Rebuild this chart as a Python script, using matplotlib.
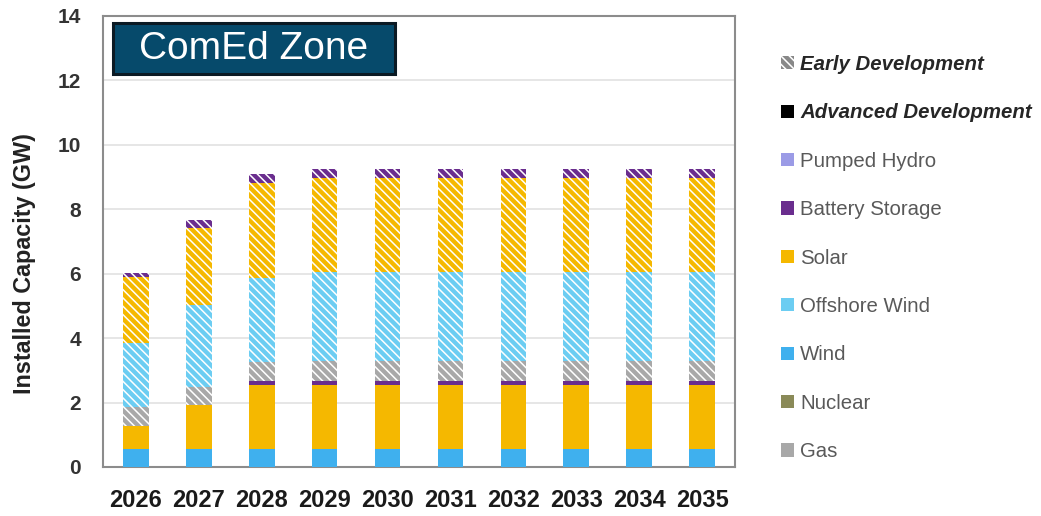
import numpy as np
import matplotlib.pyplot as plt
from matplotlib.patches import Patch, Rectangle

plt.rcParams['font.family'] = ['Liberation Sans', 'DejaVu Sans']
plt.rcParams['hatch.linewidth'] = 1.1

years = ['2026', '2027', '2028', '2029', '2030', '2031', '2032', '2033', '2034', '2035']

# advanced development (solid)
wind_adv = [0.55, 0.55, 0.55, 0.55, 0.55, 0.55, 0.55, 0.55, 0.55, 0.55]
solar_adv = [0.72, 1.38, 2.0, 2.0, 2.0, 2.0, 2.0, 2.0, 2.0, 2.0]
battery_adv = [0.0, 0.0, 0.12, 0.12, 0.12, 0.12, 0.12, 0.12, 0.12, 0.12]

# early development (hatched)
gas_early = [0.58, 0.55, 0.6, 0.62, 0.62, 0.62, 0.62, 0.62, 0.62, 0.62]
offshore_early = [2.0, 2.55, 2.6, 2.76, 2.76, 2.76, 2.76, 2.76, 2.76, 2.76]
solar_early = [2.05, 2.4, 2.96, 2.92, 2.92, 2.92, 2.92, 2.92, 2.92, 2.92]
battery_early = [0.12, 0.24, 0.27, 0.28, 0.28, 0.28, 0.28, 0.28, 0.28, 0.28]

colors = {
    'Pumped Hydro': '#9b9be6',
    'Battery Storage': '#6a2d8e',
    'Solar': '#f5b800',
    'Offshore Wind': '#6ccdf2',
    'Wind': '#3fb0ee',
    'Nuclear': '#8a8a58',
    'Gas': '#a8a8a8',
}
HATCH = '\\\\\\\\'

fig = plt.figure(figsize=(10.41, 5.16), dpi=100)
ax = fig.add_axes([0.099, 0.095, 0.607, 0.874])

x = np.arange(len(years))
w = 0.41
bottom = np.zeros(len(years))

# solid segments
for vals, name in [(wind_adv, 'Wind'), (solar_adv, 'Solar'), (battery_adv, 'Battery Storage')]:
    ax.bar(x, vals, w, bottom=bottom, color=colors[name], linewidth=0, zorder=3)
    bottom += np.array(vals)

# hatched segments
for vals, name in [(gas_early, 'Gas'), (offshore_early, 'Offshore Wind'),
                   (solar_early, 'Solar'), (battery_early, 'Battery Storage')]:
    ax.bar(x, vals, w, bottom=bottom, color=colors[name], edgecolor='white',
           hatch=HATCH, linewidth=0, zorder=3)
    bottom += np.array(vals)

ax.set_xlim(-0.52, 9.52)
ax.set_ylim(0, 14)
ax.set_yticks(range(0, 15, 2))
ax.set_xticks(x)
ax.set_xticklabels(years, fontsize=17, fontweight='bold', color='#1a1a1a')
ax.tick_params(axis='y', labelsize=15, colors='#333333', length=0, pad=16)
ax.tick_params(axis='x', length=0, pad=16)
for lab in ax.get_yticklabels():
    lab.set_fontweight('bold')
ax.grid(axis='y', color='#e2e2e2', linewidth=1.2, zorder=0)
for sp in ax.spines.values():
    sp.set_color('#8c8c8c')
    sp.set_linewidth(1.5)
ax.set_ylabel('Installed Capacity (GW)', fontsize=16.8, fontweight='bold', color='#222222')
ax.yaxis.set_label_coords(-0.106, 0.45)

# title box
fig.add_artist(Rectangle((113 / 1041, 1 - 74 / 516), 282 / 1041, 51 / 516,
                         transform=fig.transFigure, facecolor='#064a6b',
                         edgecolor='#0b1a24', linewidth=2.2, zorder=5))
fig.text(254 / 1041, 1 - 49 / 516, 'ComEd Zone', color='white', fontsize=28,
         ha='center', va='center', zorder=6)

# legend
labels = ['Early Development', 'Advanced Development', 'Pumped Hydro', 'Battery Storage',
          'Solar', 'Offshore Wind', 'Wind', 'Nuclear', 'Gas']
handles = [Patch(facecolor='#888888', edgecolor='white', hatch=HATCH, linewidth=0),
           Patch(facecolor='black', linewidth=0)]
handles += [Patch(facecolor=colors[n], linewidth=0) for n in labels[2:]]
leg = ax.legend(handles, labels, loc='upper left', bbox_to_anchor=(781 / 1041, 1 - 55 / 516),
                bbox_transform=fig.transFigure, frameon=False, fontsize=14.7,
                handlelength=0.62, handleheight=0.62, handletextpad=0.33,
                labelspacing=1.44, borderpad=0, borderaxespad=0)
for i, t in enumerate(leg.get_texts()):
    if i < 2:
        t.set_fontweight('bold')
        t.set_fontstyle('italic')
        t.set_color('#262626')
    else:
        t.set_color('#595959')

fig.savefig('out.png', dpi=100)
plt.close(fig)
